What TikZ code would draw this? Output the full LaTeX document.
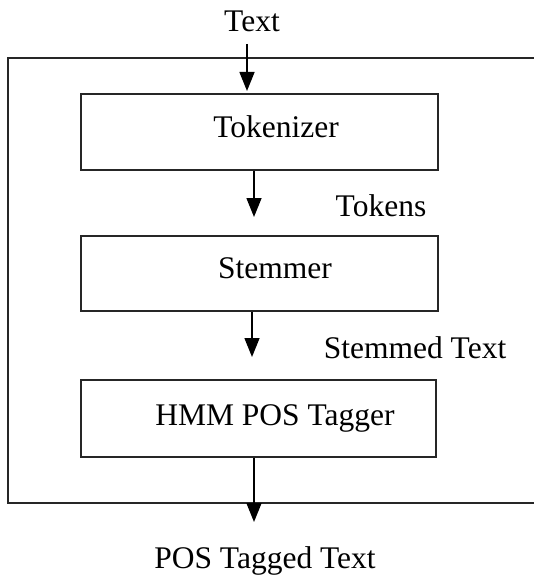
\documentclass[tikz,border=0pt]{standalone}
\usepackage{fontspec}
\setmainfont{Liberation Serif}
\usetikzlibrary{arrows.meta,calc}
\begin{document}
\begin{tikzpicture}[x=1pt,y=-1pt,
  box/.style={draw=black!85,line width=1.6pt,rectangle,inner sep=0pt,anchor=north west},
  lbl/.style={anchor=base,inner sep=0pt,font=\fontsize{31.5}{37}\selectfont},
  arr/.style={draw=black,line width=1.5pt,-{Triangle[length=19pt,width=15pt]}}]
\useasboundingbox (0,0) rectangle (534,578);
\clip (0,0) rectangle (534,578);
% outer frame (open to the right edge)
\draw[black!85,line width=1.6pt] (536,58) -- (8,58) -- (8,503) -- (536,503);
% boxes
\node[box,minimum width=357pt,minimum height=76pt] (tok) at (80,93) {};
\node[box,minimum width=357pt,minimum height=75pt] (stem) at (80,235) {};
\node[box,minimum width=355pt,minimum height=77pt] (hmm) at (80,379) {};
% labels
\node[lbl] (txt) at (252,32) {Text};
\node[lbl] (tokl) at (276,137) {Tokenizer};
\node[lbl] (steml) at (275,278) {Stemmer};
\node[lbl] (hmml) at (275,425) {HMM POS Tagger};
\node[lbl] (tokens) at (381,216) {Tokens};
\node[lbl] (stemmed) at (415,358) {Stemmed Text};
\node[lbl] (pos) at (265,568) {POS Tagged Text};
% connectors
\coordinate (in) at (247,44);
\coordinate (out) at (254,522);
\draw[arr,shorten >=2pt] (in) -- (in |- tok.north);
\draw[arr,shorten >=18pt] (tok.south -| 254,0) -- (stem.north -| 254,0);
\draw[arr,shorten >=22pt] (stem.south -| 252,0) -- (hmm.north -| 252,0);
\draw[arr] (hmm.south -| out) -- (out);
\end{tikzpicture}
\end{document}
